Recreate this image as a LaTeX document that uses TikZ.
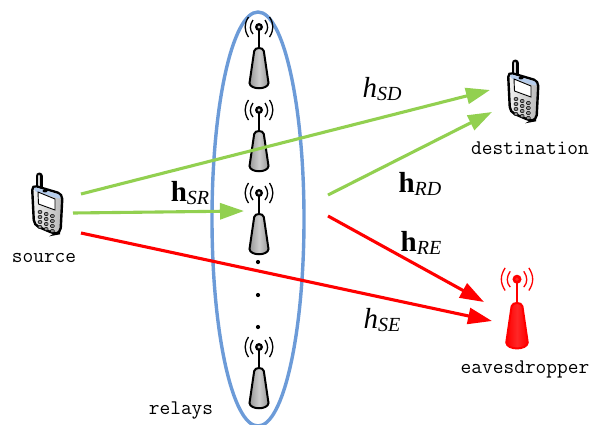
\documentclass[tikz,border=0pt]{standalone}
\usepackage{fontspec}
\setmainfont{Liberation Serif}
\newfontfamily\labelmono{Latin Modern Mono}
\usetikzlibrary{arrows.meta,calc}
\definecolor{lgreen}{HTML}{92D050}
\definecolor{lblue}{HTML}{6C9BD8}
\definecolor{pred}{HTML}{FF0000}
\newcommand{\chanlab}[2]{{\fontsize{29}{29}\selectfont#1}\raisebox{-0.7ex}{\fontsize{20}{20}\selectfont\textit{#2}}}
\tikzset{
  x=1pt,y=-1pt,
  lab/.style={font=\labelmono\fontsize{20.8}{21}\selectfont,inner sep=0pt},
  chan/.style={inner sep=0pt},
  link/.style={line width=3.1pt,-{Triangle[length=24pt,width=16pt]}},
  glink/.style={link,draw=lgreen},
  rlink/.style={link,draw=pred},
  pics/tower/.style n args={3}{code={
    \draw[line width=1.3pt,#2] (-6,-40) .. controls (-9.5,-35) and (-9.5,-30) .. (-6,-26);
    \draw[line width=1.3pt,#2] (6,-40) .. controls (9.5,-35) and (9.5,-30) .. (6,-26);
    \draw[line width=1.3pt,#2] (-10.5,-43) .. controls (-15,-36) and (-15,-30) .. (-10.5,-23);
    \draw[line width=1.3pt,#2] (10.5,-43) .. controls (15,-36) and (15,-30) .. (10.5,-23);
    \draw[line width=2pt,#2] (0,-33) -- (0,-8);
    \fill[#2] (0,-33) circle (4);
    \fill[#1] (0,-33) circle (1.6);
    \path[left color=#3,right color=#3,middle color=#1,draw=#2,line width=2pt] (-4.8,-9) .. controls (-4,-13) and (4,-13) .. (4.8,-9)
      -- (9.5,23) .. controls (9,30) and (-9,30) .. (-9.5,23) -- cycle;
  }},
  pics/phone/.style={code={
    \draw[line width=7pt,line cap=round] (-7,-29) -- (-7,-16);
    \draw[line width=2.8pt,black!15,line cap=round] (-7,-29) -- (-7,-16);
    \path[left color=black!5,right color=black!28,draw=black,line width=2.4pt,rounded corners=5pt]
      (-14,-20) -- (16.5,-11) -- (14.5,28) -- (9,29) -- (-12,20) -- cycle;
    \fill[lblue!50,rounded corners=2pt] (-12,-18) -- (14.5,-10) -- (14.5,-6) -- (-12,-14) -- cycle;
    \fill[black] (-1,-14) ellipse (2.5 and 1.4);
    \path[fill=white,draw=black,line width=0.9pt] (-8,-13) -- (9,-6) -- (9,5) -- (-7.5,-1) -- cycle;
    \foreach \i in {0,1,2}{\foreach \j in {0,1,2,3}{
      \path[fill=black!45,draw=black,line width=0.5pt] (-6+\i*6+\i*0.2,7+\j*5+\i*2) ellipse (2 and 1.7);}}
  }},
}
\begin{document}
\begin{tikzpicture}
\useasboundingbox (0,0) rectangle (591,424);
% shapes
\draw[lblue,line width=3.4pt] (258,219) ellipse (46 and 207);
\pic at (46,205) {phone};
\pic at (522,92) {phone};
\foreach \y in {27,110,193,347}{ \pic at (259,\y+33) {tower={black!20}{black}{black!40}}; }
\pic[scale=1.13] at (517,316.5) {tower={pred!85!white}{pred}{pred}};
\foreach \y in {262,295,327}{ \fill (258,\y) circle (2.1); }
% end points
\coordinate (sa) at (81,194); \coordinate (sb) at (73,213); \coordinate (sc) at (81,233);
\coordinate (ra) at (328,195); \coordinate (rb) at (328,216);
\coordinate (da) at (490,90); \coordinate (db) at (492,112);
\coordinate (ea) at (484,302); \coordinate (eb) at (492,321);
\coordinate (rin) at (244,211);
\draw[glink] (sa) -- (da);
\draw[glink] (sb) -- (rin);
\draw[glink] (ra) -- (db);
\draw[rlink] (rb) -- (ea);
\draw[rlink] (sc) -- (eb);
% labels
\node[lab] (source) at (44,258) {source};
\node[lab] (destination) at (530,148) {destination};
\node[lab] (eavesdropper) at (525,369) {eavesdropper};
\node[lab] (relays) at (181,411) {relays};
\node[chan] (hsd) at (382,89) {\chanlab{\textit{h}}{SD}};
\node[chan] (hrd) at (420,184) {\chanlab{\textbf{h}}{RD}};
\node[chan] (hsr) at (190,193) {\chanlab{\textbf{h}}{SR}};
\node[chan] (hre) at (421,243) {\chanlab{\textbf{h}}{RE}};
\node[chan] (hse) at (382,320) {\chanlab{\textit{h}}{SE}};
\end{tikzpicture}
\end{document}
